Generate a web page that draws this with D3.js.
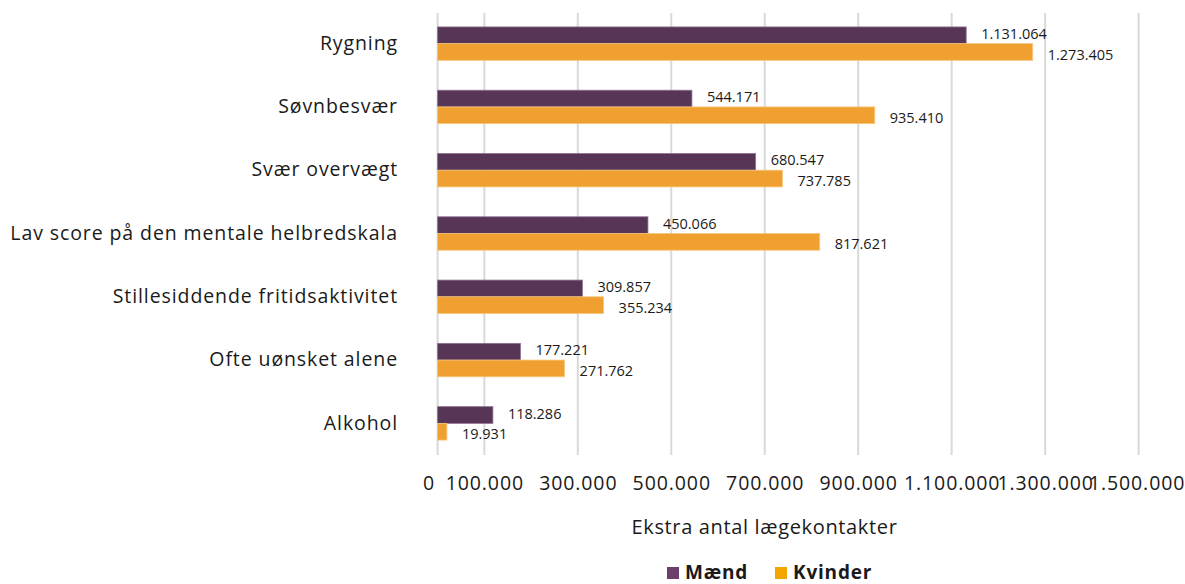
<!DOCTYPE html>
<html>
<head>
<meta charset="utf-8">
<script src="https://cdn.jsdelivr.net/npm/d3@7"></script>
<style>
  body { margin: 0; background: #fff; }
  svg { display: block; }
  text { font-family: "Open Sans", "Lato", sans-serif; fill: #1a1a1a; }
</style>
</head>
<body>
<svg id="chart" width="1185" height="584"></svg>
<script>
const categories = ["Rygning", "Søvnbesvær", "Svær overvægt", "Lav score på den mentale helbredskala", "Stillesiddende fritidsaktivitet", "Ofte uønsket alene", "Alkohol"];
const seriesNames = ["Mænd", "Kvinder"];
const maend = [1131064, 544171, 680547, 450066, 309857, 177221, 118286];
const kvinder = [1273405, 935410, 737785, 817621, 355234, 271762, 19931];
const tickValues = [0, 100000, 300000, 500000, 700000, 900000, 1100000, 1300000, 1500000];
const xTitle = "Ekstra antal lægekontakter";

const barColors = ["#573557", "#F0A030"];
const legendColors = ["#6B3E6C", "#F5A500"];

const fmt = v => d3.format(",")(v).replace(/,/g, ".");

const svg = d3.select("#chart");
const x = d3.scaleLinear().domain([0, 1500000]).range([437.6, 1138.6]);
const y = d3.scaleBand().domain(categories).range([12, 455]).padding(0);
const sub = d3.scaleBand().domain(seriesNames).range([-16.7, 16.7]);

// gridlines
svg.append("g").selectAll("line").data(tickValues).join("line")
  .attr("x1", d => x(d)).attr("x2", d => x(d))
  .attr("y1", 13).attr("y2", 455)
  .attr("stroke", "#d9d9d9").attr("stroke-width", 2);

// x axis tick labels
const xAxis = d3.axisBottom(x).tickValues(tickValues).tickFormat(fmt).tickSize(0).tickPadding(0);
const gx = svg.append("g").attr("transform", "translate(0,476)").call(xAxis);
gx.select(".domain").remove();
gx.selectAll("text")
  .style("font-size", "19.5px")
  .style("letter-spacing", "0.9px")
  .attr("dy", "0.71em")
  .attr("dx", d => d === 0 ? -9 : (d === 1500000 ? -2 : 0));

// y axis category labels
const yAxis = d3.axisLeft(y).tickSize(0).tickPadding(0);
const gy = svg.append("g").attr("transform", "translate(398,0)").call(yAxis);
gy.select(".domain").remove();
gy.selectAll("text").style("font-size", "19.5px").style("letter-spacing", "0.9px").attr("dy", "0.32em");

const data = categories.map((c, i) => ({ cat: c, vals: [maend[i], kvinder[i]] }));

const groups = svg.append("g").selectAll("g").data(data).join("g")
  .attr("transform", d => `translate(0,${y(d.cat) + y.bandwidth() / 2})`);

groups.selectAll("rect").data(d => d.vals.map((v, j) => ({ v, s: seriesNames[j], j }))).join("rect")
  .attr("x", x(0))
  .attr("y", d => sub(d.s))
  .attr("width", d => x(d.v) - x(0))
  .attr("height", sub.bandwidth())
  .attr("fill", d => barColors[d.j])
  .attr("stroke", d => d.j === 0 ? "#8c7090" : "#f6c57a")
  .attr("stroke-width", 0.8);

groups.selectAll("text.lbl").data(d => d.vals.map((v, j) => ({ v, s: seriesNames[j], j }))).join("text")
  .attr("class", "lbl")
  .attr("x", d => x(d.v) + 15)
  .attr("y", d => sub(d.s) + sub.bandwidth() / 2 + (d.j === 0 ? -1.5 : 2.5))
  .attr("dy", "0.35em")
  .style("font-size", "14.5px")
  .text(d => fmt(d.v));

// axis title
svg.append("text")
  .attr("x", 764.5).attr("y", 534)
  .attr("text-anchor", "middle")
  .style("font-size", "20px")
  .style("letter-spacing", "0.65px")
  .text(xTitle);

// legend
const legendX = [667, 775];
const lg = svg.append("g").selectAll("g").data(seriesNames).join("g")
  .attr("transform", (d, i) => `translate(${legendX[i]},567)`);
lg.append("rect").attr("width", 12).attr("height", 12).attr("fill", (d, i) => legendColors[i]);
lg.append("text").attr("x", 18).attr("y", 12)
  .style("font-size", "19px").style("font-weight", "bold")
  .style("letter-spacing", "0.8px")
  .text(d => d);
</script>
</body>
</html>
